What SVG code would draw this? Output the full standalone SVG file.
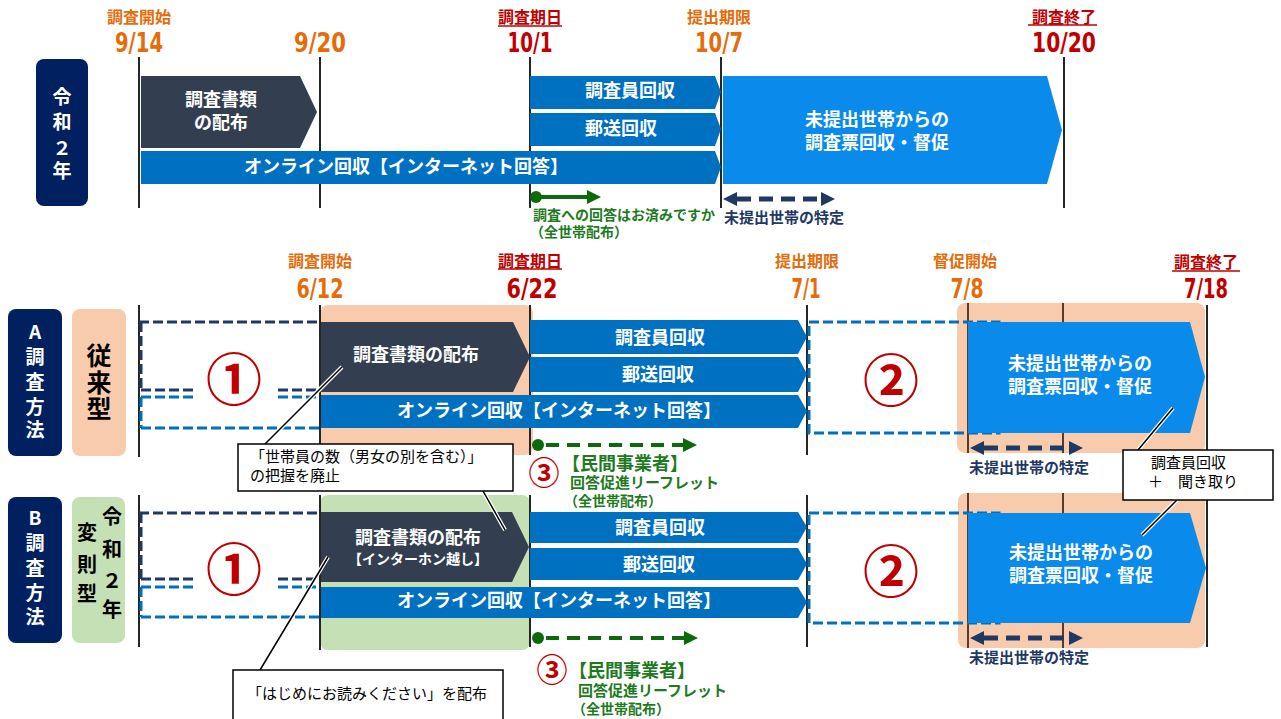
<svg xmlns="http://www.w3.org/2000/svg" width="1281" height="719" viewBox="0 0 1281 719">
<style>
text{font-family:"Noto Sans CJK JP","Noto Sans CJK SC",sans-serif}
.b{font-weight:bold}
.w{fill:#fff}
.t18{font-size:18px;font-weight:bold;fill:#fff}
.date{font-family:"DejaVu Sans Condensed","DejaVu Sans",sans-serif;font-weight:bold;font-size:27px}
.lbl{font-size:16px;font-weight:bold}
.org{fill:#E46C0A}
.red{fill:#C00000}
.vl{stroke:#262626;stroke-width:2}
.dn{stroke:#1F3864;stroke-width:3;stroke-dasharray:10 4;fill:none}
.db{stroke:#0070C0;stroke-width:3;stroke-dasharray:10 4;fill:none}
.navy{fill:#002060}
.slate{fill:#333F50}
.mid{fill:#0070C0}
.lb{fill:#0A8AEB}
.peach{fill:#F8CBAD}
.green{fill:#C5E0B4}
.gtxt{fill:#1E7A1E;font-weight:bold}
.ntxt{fill:#1F3864;font-weight:bold;font-size:15px}
.circ{font-size:56px;fill:#C00000;text-anchor:middle;font-weight:bold}
.c3{font-size:31px;fill:#C00000;text-anchor:middle;font-weight:bold}
.halo{stroke:#fff;stroke-width:4;fill:none}
.lead{stroke:#000;stroke-width:1.5;fill:none}
.box{fill:#fff;stroke:#000;stroke-width:1.5}
.ct{font-size:15px;fill:#000}
.ul{stroke:#C00000;stroke-width:1.5}
.ga{stroke:#0B6B0B;stroke-width:4;fill:none}
.gad{stroke:#0B6B0B;stroke-width:4;fill:none;stroke-dasharray:13 8}
.nad{stroke:#1F3864;stroke-width:5;fill:none;stroke-dasharray:14 8}
</style>

<g id="backgrounds">
  <rect class="peach" x="320" y="305" width="213" height="150" rx="8"/>
  <rect class="peach" x="957" y="303" width="248" height="150" rx="8"/>
  <rect class="green" x="320" y="495" width="210" height="155" rx="8"/>
  <rect class="peach" x="958" y="493" width="247" height="155" rx="8"/>
</g>

<g id="timelines">
  <line class="vl" x1="139" y1="57" x2="139" y2="208"/>
  <line class="vl" x1="320" y1="57" x2="320" y2="208"/>
  <line class="vl" x1="530" y1="57" x2="530" y2="208"/>
  <line class="vl" x1="721" y1="57" x2="721" y2="208"/>
  <line class="vl" x1="1064" y1="57" x2="1064" y2="208"/>

  <line class="vl" x1="139" y1="305" x2="139" y2="457"/>
  <line class="vl" x1="320" y1="305" x2="320" y2="455"/>
  <line class="vl" x1="530" y1="305" x2="530" y2="455"/>
  <line class="vl" x1="807" y1="305" x2="807" y2="455"/>
  <line class="vl" x1="968" y1="303" x2="968" y2="453" style="stroke:#5A3A28"/>
  <line class="vl" x1="1063" y1="303" x2="1063" y2="453" style="stroke:#5A3A28"/>
  <line class="vl" x1="1207" y1="305" x2="1207" y2="455"/>

  <line class="vl" x1="139" y1="495" x2="139" y2="647"/>
  <line class="vl" x1="320" y1="495" x2="320" y2="650"/>
  <line class="vl" x1="530" y1="495" x2="530" y2="647"/>
  <line class="vl" x1="807" y1="495" x2="807" y2="647"/>
  <line class="vl" x1="968" y1="493" x2="968" y2="648" style="stroke:#5A3A28"/>
  <line class="vl" x1="1063" y1="493" x2="1063" y2="648" style="stroke:#5A3A28"/>
  <line class="vl" x1="1207" y1="495" x2="1207" y2="647"/>
</g>

<g id="dates">
  <text class="lbl org" x="139" y="23" text-anchor="middle">調査開始</text>
  <text class="date org" x="139" y="52" text-anchor="middle" textLength="48" lengthAdjust="spacingAndGlyphs">9/14</text>
  <text class="date org" x="320" y="52" text-anchor="middle" textLength="52" lengthAdjust="spacingAndGlyphs">9/20</text>
  <text class="lbl red" x="530" y="23" text-anchor="middle">調査期日</text>
  <line class="ul" x1="498" y1="26" x2="562" y2="26"/>
  <text class="date red" x="530" y="52" text-anchor="middle" textLength="45" lengthAdjust="spacingAndGlyphs">10/1</text>
  <text class="lbl org" x="719" y="23" text-anchor="middle">提出期限</text>
  <text class="date org" x="719" y="52" text-anchor="middle" textLength="48" lengthAdjust="spacingAndGlyphs">10/7</text>
  <text class="lbl red" x="1064" y="23" text-anchor="middle">調査終了</text>
  <line class="ul" x1="1028" y1="25" x2="1097" y2="25"/>
  <text class="date red" x="1064" y="52" text-anchor="middle" textLength="64" lengthAdjust="spacingAndGlyphs">10/20</text>

  <text class="lbl org" x="320" y="267" text-anchor="middle">調査開始</text>
  <text class="date org" x="320" y="298" text-anchor="middle" textLength="47" lengthAdjust="spacingAndGlyphs">6/12</text>
  <text class="lbl red" x="530" y="267" text-anchor="middle">調査期日</text>
  <line class="ul" x1="498" y1="269" x2="562" y2="269"/>
  <text class="date red" x="532" y="298" text-anchor="middle" textLength="51" lengthAdjust="spacingAndGlyphs">6/22</text>
  <text class="lbl org" x="807" y="267" text-anchor="middle">提出期限</text>
  <text class="date org" x="806" y="298" text-anchor="middle" textLength="29" lengthAdjust="spacingAndGlyphs">7/1</text>
  <text class="lbl org" x="965" y="267" text-anchor="middle">督促開始</text>
  <text class="date org" x="967" y="298" text-anchor="middle" textLength="33" lengthAdjust="spacingAndGlyphs">7/8</text>
  <text class="lbl red" x="1206" y="268" text-anchor="middle">調査終了</text>
  <line class="ul" x1="1172" y1="271" x2="1240" y2="271"/>
  <text class="date red" x="1206" y="298" text-anchor="middle" textLength="44" lengthAdjust="spacingAndGlyphs">7/18</text>
</g>

<g id="badge-r2">
  <rect class="navy" x="36" y="59" width="52" height="147" rx="8"/>
  <text class="b w" font-size="19" text-anchor="middle" x="62" y="104">令</text>
  <text class="b w" font-size="19" text-anchor="middle" x="62" y="129">和</text>
  <text class="b w" font-size="19" text-anchor="middle" x="62" y="155">２</text>
  <text class="b w" font-size="19" text-anchor="middle" x="62" y="178">年</text>
</g>
<g id="badge-a">
  <rect class="navy" x="8" y="309" width="54" height="147" rx="8"/>
  <text class="b w" font-size="19" text-anchor="middle" x="35" y="339">A</text>
  <text class="b w" font-size="19" text-anchor="middle" x="35" y="364">調</text>
  <text class="b w" font-size="19" text-anchor="middle" x="35" y="389">査</text>
  <text class="b w" font-size="19" text-anchor="middle" x="35" y="414">方</text>
  <text class="b w" font-size="19" text-anchor="middle" x="35" y="437">法</text>
</g>
<g id="type-a">
  <rect class="peach" x="72" y="309" width="54" height="147" rx="8"/>
  <text class="b" font-size="25" text-anchor="middle" x="99" y="365">従</text>
  <text class="b" font-size="25" text-anchor="middle" x="99" y="392">来</text>
  <text class="b" font-size="25" text-anchor="middle" x="99" y="418">型</text>
</g>
<g id="badge-b">
  <rect class="navy" x="8" y="497" width="54" height="146" rx="8"/>
  <text class="b w" font-size="19" text-anchor="middle" x="35" y="525">B</text>
  <text class="b w" font-size="19" text-anchor="middle" x="35" y="550">調</text>
  <text class="b w" font-size="19" text-anchor="middle" x="35" y="575">査</text>
  <text class="b w" font-size="19" text-anchor="middle" x="35" y="600">方</text>
  <text class="b w" font-size="19" text-anchor="middle" x="35" y="624">法</text>
</g>
<g id="type-b">
  <rect class="green" x="72" y="497" width="53" height="146" rx="8"/>
  <text class="b" font-size="20" text-anchor="middle" x="112" y="524">令</text>
  <text class="b" font-size="20" text-anchor="middle" x="112" y="557">和</text>
  <text class="b" font-size="20" text-anchor="middle" x="112" y="588">２</text>
  <text class="b" font-size="20" text-anchor="middle" x="112" y="617">年</text>
  <text class="b" font-size="20" text-anchor="middle" x="87" y="540">変</text>
  <text class="b" font-size="20" text-anchor="middle" x="87" y="572">則</text>
  <text class="b" font-size="20" text-anchor="middle" x="87" y="601">型</text>
</g>

<g id="top-distribute">
  <polygon class="slate" points="141,76 300,76 317,112 300,148 141,148"/>
  <text class="t18" x="221" y="106" text-anchor="middle">調査書類</text>
  <text class="t18" x="221" y="129" text-anchor="middle">の配布</text>
</g>
<g id="top-online">
  <polygon class="mid" points="141,151 715,151 721,167 715,184 141,184"/>
  <text class="t18" x="244" y="173">オンライン回収【インターネット回答】</text>
</g>
<g id="top-enumerator">
  <polygon class="mid" points="530,76 715,76 721,92 715,109 530,109"/>
  <text class="t18" x="585" y="97">調査員回収</text>
</g>
<g id="top-mail">
  <polygon class="mid" points="530,113 715,113 721,129 715,146 530,146"/>
  <text class="t18" x="585" y="135">郵送回収</text>
</g>
<g id="top-followup">
  <polygon class="lb" points="723,76 1047,76 1062,130 1047,184 723,184"/>
  <text class="t18" x="805" y="126">未提出世帯からの</text>
  <text class="t18" x="805" y="149">調査票回収・督促</text>
</g>

<g id="a-distribute">
  <polygon class="slate" points="321,322 513,322 530,357 513,392 321,392"/>
  <text class="t18" x="353" y="361">調査書類の配布</text>
</g>
<g id="a-enumerator">
  <polygon class="mid" points="530,320 798,320 807,337 798,354 530,354"/>
  <text class="t18" x="615" y="344">調査員回収</text>
</g>
<g id="a-mail">
  <polygon class="mid" points="530,357 798,357 807,374 798,392 530,392"/>
  <text class="t18" x="622" y="381">郵送回収</text>
</g>
<g id="a-online">
  <polygon class="mid" points="321,395 798,395 807,411 798,428 321,428"/>
  <text class="t18" x="397" y="417">オンライン回収【インターネット回答】</text>
</g>
<g id="a-period1">
  <path class="dn" d="M139,322 H320 M141,322 V390 M141,390 H193 M278,390 H320"/>
  <path class="db" d="M141,397 H193 M278,397 H320 M141,397 V428 M141,428 H320"/>
  <text class="circ" x="234" y="400">①</text>
</g>
<g id="a-period2">
  <rect class="db" x="809" y="322" width="190" height="111"/>
  <text class="circ" x="891" y="401">②</text>
</g>
<g id="a-followup">
  <polygon class="lb" points="968,322 1190,322 1205,377 1190,433 968,433"/>
  <text class="t18" x="1008" y="370">未提出世帯からの</text>
  <text class="t18" x="1008" y="393">調査票回収・督促</text>
</g>

<g id="b-distribute">
  <polygon class="slate" points="321,512 512,512 529,547 512,582 321,582"/>
  <text class="t18" x="418" y="544" text-anchor="middle">調査書類の配布</text>
  <text class="b w" font-size="14" x="418" y="564" text-anchor="middle">【インターホン越し】</text>
</g>
<g id="b-enumerator">
  <polygon class="mid" points="530,512 798,512 807,527 798,543 530,543"/>
  <text class="t18" x="615" y="534">調査員回収</text>
</g>
<g id="b-mail">
  <polygon class="mid" points="530,548 798,548 807,564 798,580 530,580"/>
  <text class="t18" x="623" y="571">郵送回収</text>
</g>
<g id="b-online">
  <polygon class="mid" points="321,587 798,587 807,602 798,618 321,618"/>
  <text class="t18" x="397" y="607">オンライン回収【インターネット回答】</text>
</g>
<g id="b-period1">
  <path class="dn" d="M139,513 H320 M141,513 V579 M141,579 H193 M278,579 H320"/>
  <path class="db" d="M141,587 H193 M278,587 H320 M141,587 V617 M141,617 H320"/>
  <text class="circ" x="234" y="590">①</text>
</g>
<g id="b-period2">
  <rect class="db" x="809" y="513" width="190" height="110"/>
  <text class="circ" x="891" y="592">②</text>
</g>
<g id="b-followup">
  <polygon class="lb" points="968,513 1190,513 1206,568 1190,623 968,623"/>
  <text class="t18" x="1009" y="559">未提出世帯からの</text>
  <text class="t18" x="1009" y="582">調査票回収・督促</text>
</g>

<g id="top-reminder">
  <text class="gtxt" font-size="14" x="533" y="220">調査への回答はお済みですか</text>
  <text class="gtxt" font-size="14" x="530" y="237">（全世帯配布）</text>
</g>
<g id="top-identify">
  <text class="ntxt" x="724" y="223">未提出世帯の特定</text>
</g>
<g id="a-leaflet">
  <text class="c3" x="544" y="484">③</text>
  <text class="gtxt" font-size="18" x="562" y="470">【民間事業者】</text>
  <text class="gtxt" font-size="15" x="570" y="488">回答促進リーフレット</text>
  <text class="gtxt" font-size="14" x="564" y="506">（全世帯配布）</text>
</g>
<g id="a-identify">
  <text class="ntxt" x="969" y="473">未提出世帯の特定</text>
</g>
<g id="b-leaflet">
  <text class="c3" x="552" y="681">③</text>
  <text class="gtxt" font-size="18" x="569" y="677">【民間事業者】</text>
  <text class="gtxt" font-size="15" x="578" y="696">回答促進リーフレット</text>
  <text class="gtxt" font-size="14" x="572" y="714">（全世帯配布）</text>
</g>
<g id="b-identify">
  <text class="ntxt" x="969" y="663">未提出世帯の特定</text>
</g>

<g id="connectors">
  <circle cx="536" cy="197" r="6" fill="#0B6B0B"/>
  <line class="ga" x1="536" y1="197" x2="590" y2="197"/>
  <polygon points="587,190 601,197 587,204" fill="#0B6B0B"/>
  <line class="nad" x1="737" y1="199" x2="822" y2="199"/>
  <polygon points="723,199 737,192 737,206" fill="#1F3864"/>
  <polygon points="835,199 821,192 821,206" fill="#1F3864"/>
  <circle cx="538" cy="445" r="6" fill="#0B6B0B"/>
  <line class="gad" x1="546" y1="445" x2="685" y2="445"/>
  <polygon points="683,438 697,445 683,452" fill="#0B6B0B"/>
  <line class="nad" x1="984" y1="448" x2="1070" y2="448"/>
  <polygon points="970,448 984,441 984,455" fill="#1F3864"/>
  <polygon points="1083,448 1069,441 1069,455" fill="#1F3864"/>
  <circle cx="538" cy="638" r="6" fill="#0B6B0B"/>
  <line class="gad" x1="546" y1="638" x2="686" y2="638"/>
  <polygon points="684,631 698,638 684,645" fill="#0B6B0B"/>
  <line class="nad" x1="984" y1="638" x2="1070" y2="638"/>
  <polygon points="970,638 984,631 984,645" fill="#1F3864"/>
  <polygon points="1083,638 1069,631 1069,645" fill="#1F3864"/>
  <path class="halo" d="M342,367 L265,444 M483,491 L505,530 M1138,450 L1173,408 M1177,500 L1142,535 M328,557 L260,670"/>
  <path class="lead" d="M342,367 L265,444 M483,491 L505,530 M1138,450 L1173,408 M1177,500 L1142,535 M328,557 L260,670"/>
</g>

<g id="callout-household">
  <rect class="box" x="238" y="444" width="275" height="47"/>
  <text class="ct" x="250" y="462">「世帯員の数（男女の別を含む）」</text>
  <text class="ct" x="250" y="481">の把握を廃止</text>
</g>
<g id="callout-interview">
  <rect class="box" x="1123" y="450" width="150" height="50"/>
  <text class="ct" x="1151" y="468">調査員回収</text>
  <text class="ct" x="1148" y="487">＋　聞き取り</text>
</g>
<g id="callout-intro">
  <rect class="box" x="233" y="670" width="270" height="60"/>
  <text class="ct" x="247" y="699">「はじめにお読みください」を配布</text>
</g>
</svg>
